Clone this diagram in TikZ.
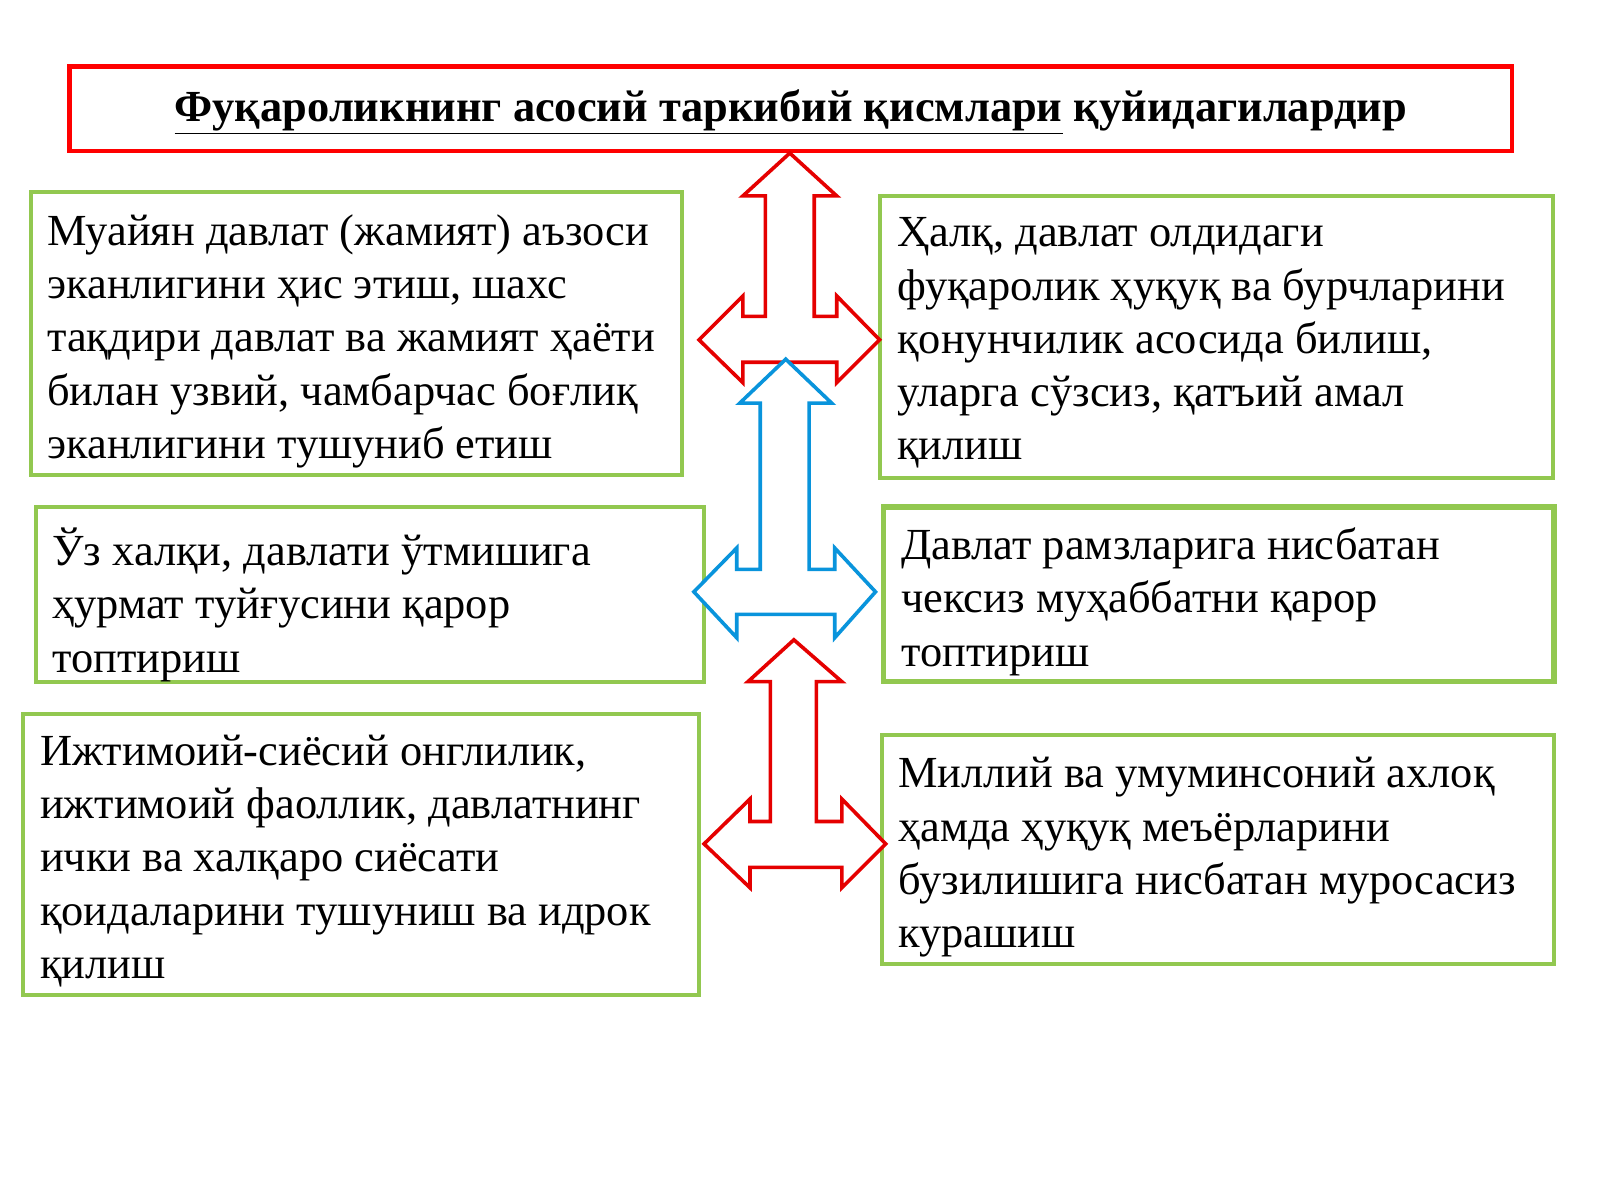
\documentclass[tikz,border=0pt]{standalone}
\usepackage{fontspec}
\setmainfont{Liberation Serif}
\begin{document}
\begin{tikzpicture}[x=0.5102pt,y=-0.5102pt,
  txt/.style={anchor=north west, align=left, inner sep=0pt, font=\fontsize{22.2}{26.6}\selectfont},
  redar/.style={draw=red!90!black, line width=1.8pt, fill=white, line join=miter},
  bluar/.style={draw=cyan!80!blue, line width=1.8pt, fill=white, line join=miter}]
\definecolor{gr}{RGB}{146,200,80}
\useasboundingbox (0,0) rectangle (1568,1176);
\fill[white] (0,0) rectangle (1568,1176);
% title
\draw[red, line width=2.2pt] (68,65) rectangle (1482,148);
\node[font=\bfseries\fontsize{22.2}{26}\selectfont] (title) at (775,110) {\underline{Фуқароликнинг асосий таркибий қисмлари} қуйидагилардир};
% boxes
\draw[gr, line width=2pt] (30,188) rectangle (668,465);
\draw[gr, line width=2pt] (862,192) rectangle (1522,468);
\draw[gr, line width=2pt] (35,497) rectangle (690,668);
\draw[gr, line width=2.8pt] (866,497) rectangle (1523,668);
\draw[gr, line width=2pt] (23,700) rectangle (685,975);
\draw[gr, line width=2pt] (864,720) rectangle (1523,945);
\node[txt] (l1) at (46,210) {Муайян давлат (жамият) аъзоси\\эканлигини ҳис этиш, шахс\\тақдири давлат ва жамият ҳаёти\\билан узвий, чамбарчас боғлиқ\\эканлигини тушуниб етиш};
\node[txt] (r1) at (879,213) {Ҳалқ, давлат олдидаги\\фуқаролик ҳуқуқ ва бурчларини\\қонунчилик асосида билиш,\\уларга сўзсиз, қатъий амал\\қилиш};
\node[txt] (l2) at (51,517) {Ўз халқи, давлати ўтмишига\\ҳурмат туйғусини қарор\\топтириш};
\node[txt] (r2) at (883,517) {Давлат рамзларига нисбатан\\чексиз муҳаббатни қарор\\топтириш};
\node[txt] (l3) at (39,720) {Ижтимоий-сиёсий онглилик,\\ижтимоий фаоллик, давлатнинг\\ички ва халқаро сиёсати\\қоидаларини тушуниш ва идрок\\қилиш};
\node[txt] (r3) at (880,742) {Миллий ва умуминсоний ахлоқ\\ҳамда ҳуқуқ меъёрларини\\бузилишига нисбатан муросасиз\\курашиш};
% arrows
\draw[redar] (774,150)--(820,192)--(798,192)--(798,310)--(820,310)--(820,290)--(862,333)--(820,375)--(820,355)--(728,355)--(728,375)--(685,333)--(728,290)--(728,310)--(750,310)--(750,192)--(728,192)--cycle;
\draw[bluar] (770,352)--(815,395)--(793,395)--(793,558)--(818,558)--(818,537)--(858,580)--(818,625)--(818,602)--(722,602)--(722,625)--(680,580)--(722,537)--(722,558)--(745,558)--(745,395)--(725,395)--cycle;
\draw[redar] (778,627)--(825,668)--(800,668)--(800,805)--(825,805)--(825,783)--(868,827)--(825,870)--(825,850)--(735,850)--(735,870)--(690,827)--(735,783)--(735,805)--(755,805)--(755,668)--(733,668)--cycle;
\end{tikzpicture}
\end{document}
